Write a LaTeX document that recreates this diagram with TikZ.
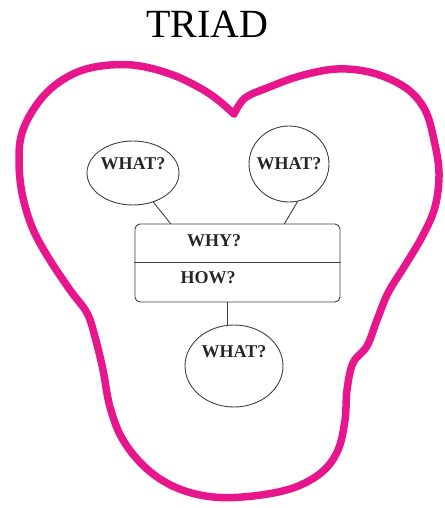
\documentclass[tikz,border=0pt]{standalone}
\usepackage{fontspec}
\setmainfont{Liberation Serif}
\usetikzlibrary{shapes.geometric}
\definecolor{triadpink}{RGB}{232,22,140}
\begin{document}
\begin{tikzpicture}[x=1pt,y=-1pt,line join=round,line cap=round,
		bubble/.style={ellipse,draw=black!75,line width=0.9pt,inner sep=0pt},
		word/.style={font=\fontsize{18}{21}\selectfont\bfseries,text=black!85,inner sep=0pt}]
	\useasboundingbox (0,0) rectangle (444,508);
	% outline round the whole triad
	\draw[triadpink,line width=7.5pt] plot[smooth,tension=0.6] coordinates {
		(234,114) (218,100) (200,88) (173,75) (140,66) (110,65) (80,71) (54,86)
		(35,107) (22,133) (19,160) (22,193) (32,227) (48,257) (70,290) (87,313)
		(95,337) (103,370) (110,407) (123,440) (147,469) (177,488) (213,497)
		(253,496) (293,488) (322,472) (338,450) (345,420) (347,390) (353,363)
		(367,346) (377,320) (388,293) (404,267) (422,237) (435,207) (439,173)
		(434,140) (425,110) (406,88) (373,73) (337,69) (300,76) (267,88)
		(245,98) (234,114)};
	\node[font=\fontsize{40}{44}\selectfont] (title) at (207.5,24.5) {TRIAD};
	% the core box
	\node[draw=black!75,line width=0.9pt,rounded corners=5pt,minimum width=205pt,minimum height=78pt] (core) at (237.5,263) {};
	\draw[black!75,line width=0.9pt] ([yshift=1pt]core.west) -- ([yshift=1pt]core.east);
	\node[word] (why) at (214,241) {WHY?};
	\node[word] (how) at (208,277.5) {HOW?};
	% the three whats
	\node[bubble,minimum width=92pt,minimum height=64pt] (whatL) at (133,173) {};
	\node[bubble,minimum width=80pt,minimum height=76pt] (whatR) at (289,164) {};
	\node[bubble,minimum width=98pt,minimum height=82pt] (whatB) at (234,366) {};
	\node[word] at ([yshift=9pt]whatL.center) {WHAT?};
	\node[word] at (whatR.center) {WHAT?};
	\node[word] at ([yshift=14pt]whatB.center) {WHAT?};
	\draw[black!75,line width=0.9pt] (whatL.-55) -- ([xshift=-67pt]core.north);
	\draw[black!75,line width=0.9pt] (whatR.-77) -- ([xshift=47pt]core.north);
	\draw[black!75,line width=0.9pt] ([xshift=-10pt]core.south) -- ([xshift=-10pt]core.south |- whatB.north);
\end{tikzpicture}
\end{document}
